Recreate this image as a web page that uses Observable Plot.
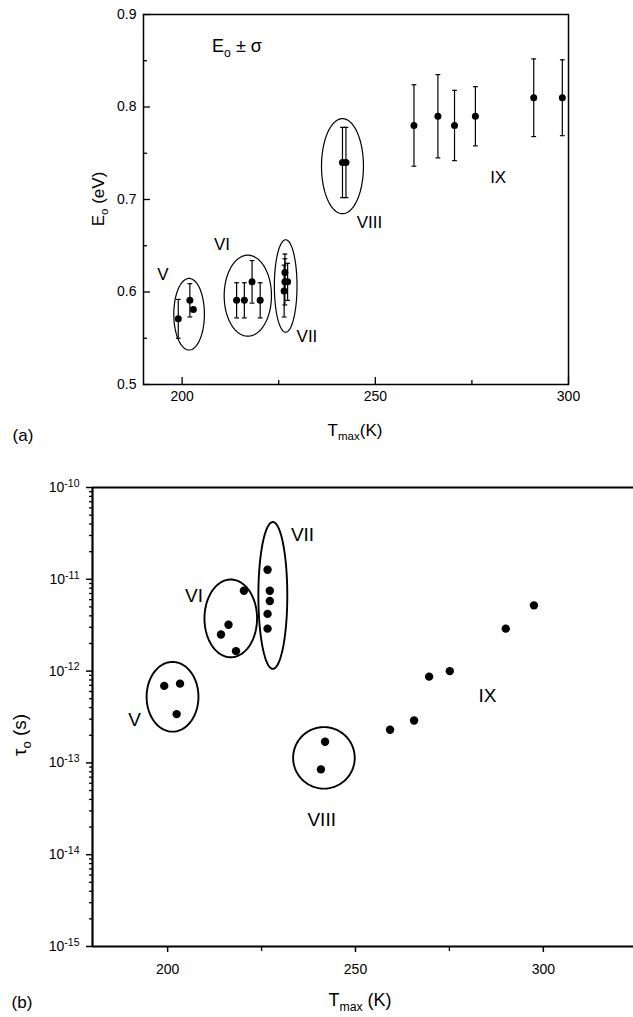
<!DOCTYPE html>
<html>
<head>
<meta charset="utf-8">
<script src="https://cdn.jsdelivr.net/npm/d3@7"></script>
<script src="https://cdn.jsdelivr.net/npm/@observablehq/plot@0.6"></script>
<style>
  body { margin: 0; background: #fff; }
  #fig { position: relative; width: 633px; height: 1017px; font-family: "Liberation Sans", Arial, sans-serif; color: #000; background: #fff; }
  #fig svg { position: absolute; left: 0; }
  .lbl { position: absolute; white-space: nowrap; line-height: 1; transform: translate(-50%, -50%); }
  .lbl sub { font-size: 0.68em; vertical-align: -0.35em; }
  .rot { transform: translate(-50%, -50%) rotate(-90deg); }
</style>
</head>
<body>
<div id="fig"></div>
<script>
// ---- Panel (a): activation energy E0 with ±σ versus peak temperature ----
const tA   = [199.0, 202.0, 202.9, 214.1, 216.1, 218.1, 220.2, 226.6, 226.6, 227.3, 226.4, 241.5, 242.4, 260.0, 266.2, 270.5, 275.9, 291.0, 298.4];
const eA   = [0.571, 0.591, 0.581, 0.591, 0.591, 0.611, 0.591, 0.621, 0.611, 0.611, 0.601, 0.740, 0.740, 0.780, 0.790, 0.780, 0.790, 0.810, 0.810];
const sigA = [0.021, 0.018, 0.000, 0.019, 0.019, 0.023, 0.019, 0.020, 0.025, 0.020, 0.028, 0.038, 0.038, 0.044, 0.045, 0.038, 0.032, 0.042, 0.041];

// groups circled in panel (a)
const ringNamesA = ["V", "VI", "VII", "VIII"];
const ringCxA = [201.8, 217.0, 226.8, 241.5];
const ringCyA = [0.576, 0.596, 0.6065, 0.736];
const ringRxA = [3.96, 6.12, 2.93, 5.43];
const ringRyA = [0.0387, 0.0438, 0.050, 0.0514];

const groupNamesA = ["V", "VI", "VII", "VIII", "IX"];
const groupXA = [195.0, 210.3, 232.3, 248.5, 281.8];
const groupYA = [0.619, 0.651, 0.552, 0.675, 0.724];

const xDomainA = [190, 300];
const yDomainA = [0.5, 0.9];
const xTicksA = [200, 250, 300];
const xMinorA = [225, 275];
const yTicksA = [0.5, 0.6, 0.7, 0.8, 0.9];
const yMinorA = [0.55, 0.65, 0.75, 0.85];

// ---- Panel (b): pre-exponential factor tau0 (log scale) ----
const tB   = [199.1, 203.3, 202.4, 214.2, 216.2, 218.2, 220.3, 226.6, 227.2, 227.2, 226.6, 226.6, 241.9, 240.8, 259.2, 265.6, 269.6, 275.1, 290.0, 297.5];
const tauB = [6.9e-13, 7.3e-13, 3.4e-13, 2.5e-12, 3.2e-12, 1.65e-12, 7.5e-12, 1.27e-11, 7.5e-12, 5.8e-12, 4.2e-12, 2.9e-12, 1.7e-13, 8.5e-14, 2.3e-13, 2.9e-13, 8.7e-13, 1.0e-12, 2.9e-12, 5.2e-12];

const ringNamesB = ["V", "VI", "VII", "VIII"];
const ringCxB = [201.3, 216.8, 228.0, 241.6];
const ringCyB = [-12.28, -11.426, -11.176, -12.945];   // log10 of the centre
const ringRxB = [6.9, 7.0, 3.85, 8.2];
const ringRyB = [0.38, 0.424, 0.80, 0.335];            // in decades

const groupNamesB = ["V", "VI", "VII", "VIII", "IX"];
const groupXB = [191.2, 207.0, 235.9, 241.0, 285.1];
const groupYB = [-12.53, -11.18, -10.52, -13.62, -12.27];

const xDomainB = [180, 324];
const yDomainB = [1e-15, 1e-10];
const xTicksB = [200, 250, 300];
const xMinorB = [225, 275];
const yDecadesB = [-15, -14, -13, -12, -11, -10];

// ---------------------------------------------------------------
const W = 633;
const font = '"Liberation Sans", Arial, sans-serif';

function ring(names, cx, cy, rx, ry, toY) {
  const pts = [];
  names.forEach((g, i) => {
    for (let k = 0; k <= 90; k++) {
      const a = 2 * Math.PI * k / 90;
      pts.push({g, x: cx[i] + rx[i] * Math.cos(a), y: toY(cy[i] + ry[i] * Math.sin(a))});
    }
  });
  return pts;
}

// horizontal cap for the error bars
const capSymbol = {
  draw(ctx, size) {
    const w = Math.sqrt(size / Math.PI);
    ctx.moveTo(-w, 0);
    ctx.lineTo(w, 0);
  }
};

const ptsA = tA.map((t, i) => ({t, e: eA[i], s: sigA[i]}));
const barsA = ptsA.filter(d => d.s > 0);
const capsA = barsA.flatMap(d => [{t: d.t, v: d.e - d.s}, {t: d.t, v: d.e + d.s}]);
const labelsA = groupNamesA.map((n, i) => ({n, x: groupXA[i], y: groupYA[i]}));

// panel (a) frame geometry
const mA = {top: 14, bottom: 66, left: 143, right: 65};
const hA = 450;
const frameWA = W - mA.left - mA.right;
const frameHA = hA - mA.top - mA.bottom;

const plotA = Plot.plot({
  width: W,
  height: hA,
  marginTop: mA.top, marginBottom: mA.bottom, marginLeft: mA.left, marginRight: mA.right,
  x: {domain: xDomainA, axis: null},
  y: {domain: yDomainA, axis: null},
  style: {fontFamily: font, color: "black", background: "transparent", overflow: "visible"},
  marks: [
    Plot.frame({stroke: "black", strokeWidth: 1.5}),
    // inward ticks
    Plot.ruleY(yTicksA, {y: d => d, insetRight: frameWA - 7, strokeWidth: 1.3}),
    Plot.ruleY(yMinorA, {y: d => d, insetRight: frameWA - 4, strokeWidth: 1.3}),
    Plot.ruleX(xTicksA, {x: d => d, insetTop: frameHA - 7, strokeWidth: 1.3}),
    Plot.ruleX(xMinorA, {x: d => d, insetTop: frameHA - 4, strokeWidth: 1.3}),
    Plot.axisY({ticks: yTicksA, tickSize: 0, tickPadding: 7, tickFormat: d3.format(".1f"), label: null, fontSize: 14}),
    Plot.axisX({ticks: xTicksA, tickSize: 0, tickPadding: 7, tickFormat: d3.format("d"), label: null, fontSize: 14}),
    // circled groups
    Plot.line(ring(ringNamesA, ringCxA, ringCyA, ringRxA, ringRyA, v => v),
      {x: "x", y: "y", z: "g", stroke: "black", strokeWidth: 1.2, curve: "linear-closed"}),
    // error bars
    Plot.ruleX(barsA, {x: "t", y1: d => d.e - d.s, y2: d => d.e + d.s, stroke: "black", strokeWidth: 1.2}),
    Plot.dot(capsA, {x: "t", y: "v", symbol: capSymbol, r: 2.4, stroke: "black", fill: "none", strokeWidth: 1.2}),
    Plot.dot(ptsA, {x: "t", y: "e", r: 3.5, fill: "black", stroke: "none"}),
    Plot.text(labelsA, {x: "x", y: "y", text: "n", fontSize: 17, fill: "black"})
  ]
});
plotA.style.top = "0px";

// panel (b)
const ptsB = tB.map((t, i) => ({t, tau: tauB[i]}));
const labelsB = groupNamesB.map((n, i) => ({n, x: groupXB[i], y: Math.pow(10, groupYB[i])}));
const majorB = yDecadesB.map(e => Math.pow(10, e));
const minorB = yDecadesB.slice(0, -1).flatMap(e => d3.range(2, 10).map(k => k * Math.pow(10, e)));

const mB = {top: 37, bottom: 71, left: 92, right: 0};
const hB = 1017 - 450;

const plotB = Plot.plot({
  width: W,
  height: hB,
  marginTop: mB.top, marginBottom: mB.bottom, marginLeft: mB.left, marginRight: mB.right,
  x: {domain: xDomainB, axis: null},
  y: {type: "log", domain: yDomainB, axis: null},
  style: {fontFamily: font, color: "black", background: "transparent", overflow: "visible"},
  marks: [
    // axis lines: left, bottom and top
    Plot.ruleY(yDomainB, {y: d => d, stroke: "black", strokeWidth: 2.2}),
    Plot.ruleX([xDomainB[0]], {x: d => d, stroke: "black", strokeWidth: 2.2}),
    // outward ticks
    Plot.axisY({ticks: minorB, tickSize: 3, tickFormat: () => "", label: null, strokeWidth: 1.3}),
    Plot.axisY({ticks: majorB, tickSize: 6, tickPadding: 7, tickFormat: d => String(Math.round(Math.log10(d))), label: null, fontSize: 14, strokeWidth: 1.5}),
    Plot.axisX({ticks: xMinorB, tickSize: 5, tickFormat: () => "", label: null, strokeWidth: 1.3}),
    Plot.axisX({ticks: xTicksB, tickSize: 6, tickPadding: 12, tickFormat: d3.format("d"), label: null, fontSize: 14, strokeWidth: 1.5}),
    Plot.line(ring(ringNamesB, ringCxB, ringCyB, ringRxB, ringRyB, v => Math.pow(10, v)),
      {x: "x", y: "y", z: "g", stroke: "black", strokeWidth: 1.9, curve: "linear-closed"}),
    Plot.dot(ptsB, {x: "t", y: "tau", r: 4.2, fill: "black", stroke: "none"}),
    Plot.text(labelsB, {x: "x", y: "y", text: "n", fontSize: 19, fill: "black"})
  ]
});
plotB.style.top = "450px";

// write the decade labels as 10 with a superscript exponent
d3.select(plotB).selectAll("text").each(function () {
  const s = this.textContent;
  if (/^[-\u2212]\d+$/.test(s)) {
    const t = d3.select(this);
    t.text("10");
    t.append("tspan").attr("dy", "-0.5em").attr("font-size", "0.75em").text(s.replace("\u2212", "-"));
  }
});

const fig = document.getElementById("fig");
fig.appendChild(plotA);
fig.appendChild(plotB);

function addLabel(html, x, y, size, rotate) {
  const d = document.createElement("div");
  d.className = "lbl" + (rotate ? " rot" : "");
  d.style.left = x + "px";
  d.style.top = y + "px";
  d.style.fontSize = size + "px";
  d.innerHTML = html;
  fig.appendChild(d);
}

addLabel("E<sub>o</sub> &#177; &#963;", 237, 48, 18, false);
addLabel("E<sub>o</sub> (eV)", 100, 199, 17, true);
addLabel("T<sub>max</sub>(K)", 355, 432, 17, false);
addLabel("(a)", 23, 435, 17, false);
addLabel("&#964;<sub>o</sub> (s)", 22, 735, 19, true);
addLabel("T<sub>max</sub> (K)", 360, 1002, 18, false);
addLabel("(b)", 22, 1002, 17, false);
</script>
</body>
</html>
